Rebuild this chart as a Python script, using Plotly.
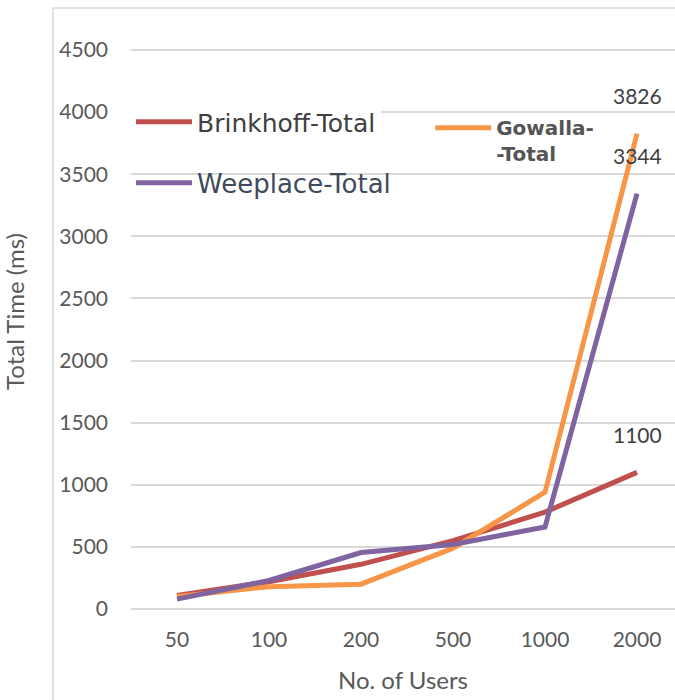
import plotly.graph_objects as go

# Number of users (x categories)
users = ["50", "100", "200", "500", "1000", "2000"]

# Total time in ms for each dataset
brinkhoff_total = [110, 220, 360, 550, 780, 1100]
gowalla_total = [100, 180, 200, 490, 940, 3826]
weeplace_total = [80, 230, 455, 520, 660, 3344]

y_ticks = [0, 500, 1000, 1500, 2000, 2500, 3000, 3500, 4000, 4500]

RED = "#C0504D"
ORANGE = "#F79646"
PURPLE = "#8064A2"
TEXT = "#595959"
GRID = "#D9D9D9"

fig = go.Figure()

fig.add_trace(go.Scatter(
    x=users, y=brinkhoff_total, mode="lines", name="Brinkhoff-Total",
    line=dict(color=RED, width=5), legend="legend", showlegend=True,
))
fig.add_trace(go.Scatter(
    x=users, y=gowalla_total, mode="lines", name="Gowalla-<br>-Total",
    line=dict(color=ORANGE, width=5), legend="legend2", showlegend=True,
))
fig.add_trace(go.Scatter(
    x=users, y=weeplace_total, mode="lines", name="Weeplace-Total",
    line=dict(color=PURPLE, width=5), legend="legend3", showlegend=True,
))

# Value labels above the last point of each series
last = len(users) - 1
for series in (gowalla_total, weeplace_total, brinkhoff_total):
    fig.add_annotation(
        x=last, y=series[last], xref="x", yref="y",
        text=str(series[last]),
        showarrow=False, yshift=38,
        font=dict(family="Lato", size=21, color="#404040"),
    )

# Thin frame along the left and top edges of the chart area
fig.add_shape(
    type="path", xref="paper", yref="paper",
    path="M -0.1434,-0.2 L -0.1434,1 L 1.05,1",
    line=dict(color=GRID, width=1.5),
)

fig.update_layout(
    width=675, height=700,
    margin=dict(l=131, r=0, t=8, b=85),
    paper_bgcolor="white", plot_bgcolor="white",
    font=dict(family="Lato", color=TEXT),
    showlegend=True,
    legend=dict(
        x=0.0, y=0.812, xanchor="left", yanchor="middle",
        bgcolor="white", itemwidth=56,
        font=dict(family="DejaVu Sans", size=25, color="#404040"),
    ),
    legend2=dict(
        x=0.55, y=0.835, xanchor="left", yanchor="top", valign="top",
        bgcolor="rgba(0,0,0,0)", itemwidth=56,
        font=dict(family="DejaVu Sans", size=20, color="#555555", weight="bold"),
    ),
    legend3=dict(
        x=0.0, y=0.712, xanchor="left", yanchor="middle",
        bgcolor="rgba(0,0,0,0)", itemwidth=56,
        font=dict(family="DejaVu Sans", size=26, color="#3F4A5C"),
    ),
    xaxis=dict(
        type="category", range=[-0.5, 5.413],
        showgrid=False, showline=False, zeroline=False, ticks="",
        tickfont=dict(family="Lato", size=21, color=TEXT),
        ticklabelstandoff=10,
        title=dict(text="No. of Users", standoff=22,
                   font=dict(family="Lato", size=24, color=TEXT)),
    ),
    yaxis=dict(
        range=[-48, 4838], tickvals=y_ticks,
        showgrid=True, gridcolor=GRID, gridwidth=1.5,
        showline=False, zeroline=False, ticks="",
        tickfont=dict(family="Lato", size=21, color=TEXT),
        ticklabelstandoff=22,
        title=dict(text="Total Time (ms)", standoff=30,
                   font=dict(family="Lato", size=24, color=TEXT)),
    ),
)

fig.write_html("out.html")
